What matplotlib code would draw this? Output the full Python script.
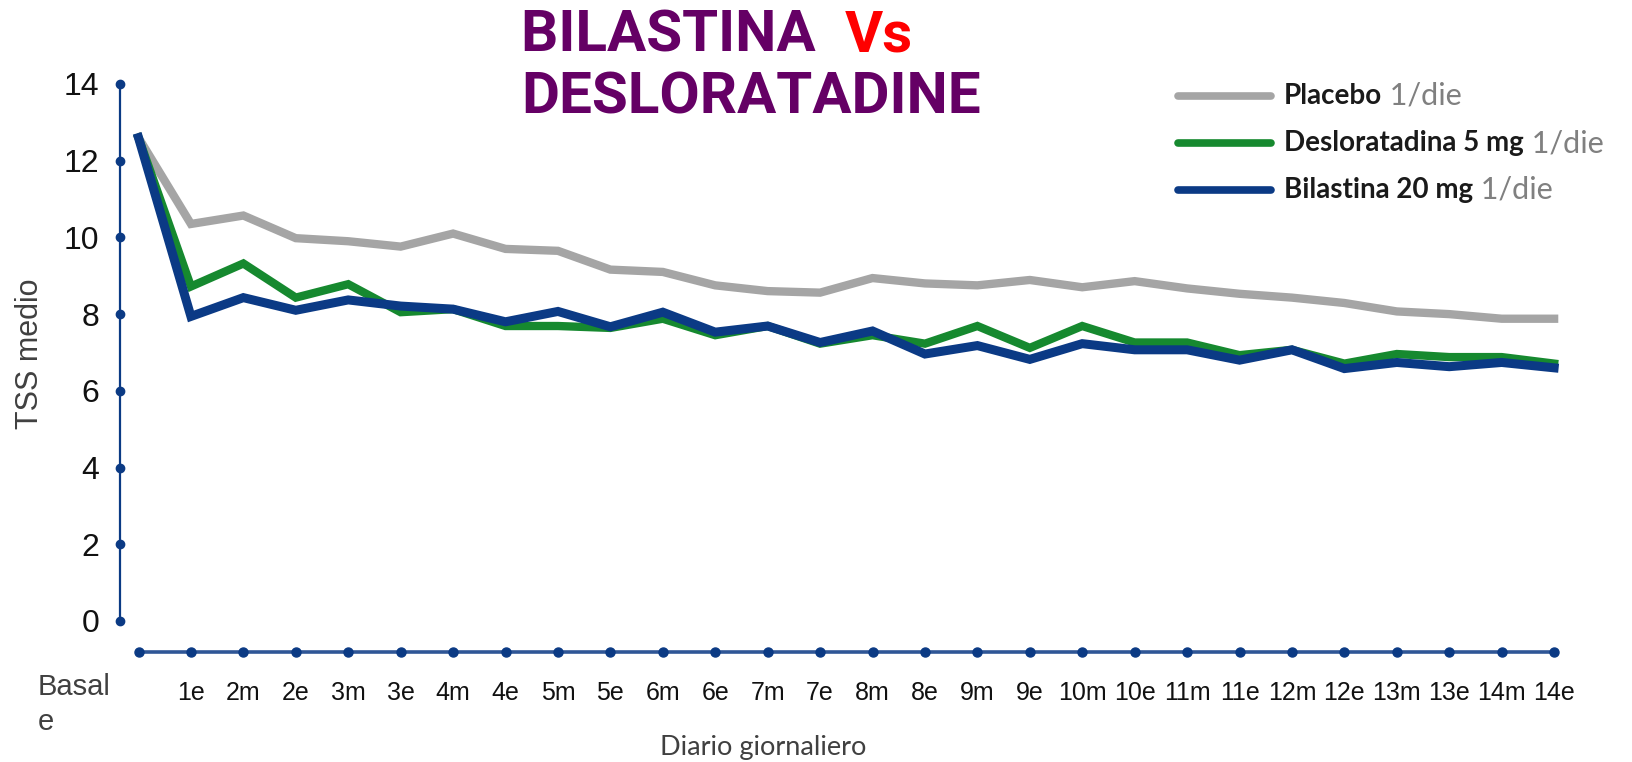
import matplotlib
matplotlib.use("Agg")
import matplotlib.pyplot as plt
from matplotlib.lines import Line2D

# ---- data ----
categories = ["Basale", "1e", "2m", "2e", "3m", "3e", "4m", "4e", "5m", "5e", "6m", "6e",
              "7m", "7e", "8m", "8e", "9m", "9e", "10m", "10e", "11m", "11e", "12m",
              "12e", "13m", "13e", "14m", "14e"]
placebo = [12.6, 10.35, 10.57, 9.98, 9.9, 9.76, 10.1, 9.7, 9.65, 9.16, 9.1, 8.75,
           8.6, 8.56, 8.94, 8.8, 8.75, 8.89, 8.7, 8.86, 8.67, 8.53, 8.43, 8.29,
           8.07, 8.0, 7.88, 7.88]
deslo = [12.6, 8.72, 9.32, 8.43, 8.78, 8.05, 8.13, 7.69, 7.69, 7.64, 7.88, 7.45,
         7.69, 7.23, 7.45, 7.23, 7.69, 7.12, 7.69, 7.26, 7.26, 6.93, 7.07, 6.71,
         6.96, 6.88, 6.88, 6.71]
bila = [12.6, 7.94, 8.43, 8.1, 8.37, 8.21, 8.13, 7.8, 8.07, 7.67, 8.05, 7.53,
        7.69, 7.26, 7.56, 6.96, 7.18, 6.82, 7.23, 7.07, 7.07, 6.8, 7.07, 6.58,
        6.74, 6.63, 6.74, 6.6]
yticks = [0, 2, 4, 6, 8, 10, 12, 14]
series_names = ["Placebo", "Desloratadina 5 mg", "Bilastina 20 mg"]

GRAY = "#A5A5A5"
GREEN = "#16892F"
BLUE = "#0B3A85"
NAVY = "#0B3A84"
ARIAL = ["Liberation Sans", "DejaVu Sans"]
CAL = ["Lato", "DejaVu Sans"]

W, H = 1633, 762
fig = plt.figure(figsize=(W / 100, H / 100), dpi=100)
ax = fig.add_axes([0, 0, 1, 1])

# pixel mapping
x0px, dx = 138.5, 52.43
y0px, dy = 141.0, 38.36
ax.set_xlim(-x0px / dx, (W - x0px) / dx)
ax.set_ylim(-y0px / dy, (H - y0px) / dy)

xs = list(range(len(categories)))
ax.plot(xs, placebo, color=GRAY, lw=6.0, solid_joinstyle="miter", zorder=3)
ax.plot(xs, deslo, color=GREEN, lw=6.0, solid_joinstyle="miter", zorder=4)
ax.plot(xs, bila, color=BLUE, lw=6.5, solid_joinstyle="miter", zorder=5)

# axes lines
yax_x = (120 - x0px) / dx
xax_y = (110 - y0px) / dy
for s in ["top", "right"]:
    ax.spines[s].set_visible(False)
ax.spines["left"].set_position(("data", yax_x))
ax.spines["left"].set_bounds(0, 14)
ax.spines["left"].set_color(NAVY)
ax.spines["left"].set_linewidth(1.6)
ax.spines["bottom"].set_position(("data", xax_y))
ax.spines["bottom"].set_bounds(0, len(categories) - 1)
ax.spines["bottom"].set_color("#2F5696")
ax.spines["bottom"].set_linewidth(2.6)

ax.plot([yax_x] * len(yticks), yticks, "o", color=NAVY, ms=6, clip_on=False, zorder=6)
ax.plot(xs, [xax_y] * len(xs), "o", color=NAVY, ms=6.5, clip_on=False, zorder=6)

ax.set_yticks(yticks)
ax.set_yticklabels([str(v) for v in yticks], fontfamily=ARIAL, fontsize=23, color="#111111")
ax.tick_params(axis="y", length=0, pad=15)
ax.set_xticks(xs)
ax.set_xticklabels([""] + categories[1:], fontfamily=ARIAL, fontsize=18, color="#111111")
ax.tick_params(axis="x", length=0, pad=21)

# Basale label (wrapped, displaced)
fig.text(38 / W, 1 - 673 / H, "Basal\ne", ha="left", va="top", fontsize=21,
         color="#404040", family=ARIAL, linespacing=1.3)
# axis titles
fig.text(30 / W, 1 - 354 / H, "TSS medio", rotation=90, ha="center", va="center",
         fontsize=22, color="#404040", family=ARIAL)
fig.text(763 / W, 1 - 747 / H, "Diario giornaliero", ha="center", va="center",
         fontsize=19.5, color="#404040", family=CAL)

# title
tkw = dict(fontsize=42, fontweight="bold", family=["Roboto", "DejaVu Sans"])
t1 = fig.text(521 / W, 1 - 52 / H, "BILASTINA  ", color="#650065", ha="left",
              va="baseline", **tkw)
ax.annotate("Vs", xy=(1, 0), xycoords=t1, ha="left", va="bottom", color="#FF0000", **tkw)
fig.text(521 / W, 1 - 114 / H, "DESLORATADINE", color="#650065", ha="left",
         va="baseline", **tkw)

# legend (manual)
leg_colors = [GRAY, GREEN, BLUE]
leg_y = [96, 143, 190]
for name, c, yy in zip(series_names, leg_colors, leg_y):
    fy = 1 - yy / H
    fig.add_artist(Line2D([1178 / W, 1271 / W], [fy, fy], color=c, lw=5.5,
                          solid_capstyle="round", transform=fig.transFigure))
    tt = fig.text(1284 / W, fy, name, ha="left", va="center", fontsize=20,
                  fontweight="bold", color="#1a1a1a", family=CAL)
    ax.annotate(" 1/die", xy=(1, 0.5), xycoords=tt, ha="left", va="center",
                fontsize=22, color="#808080", family=CAL)

fig.savefig("out.png", dpi=100)
